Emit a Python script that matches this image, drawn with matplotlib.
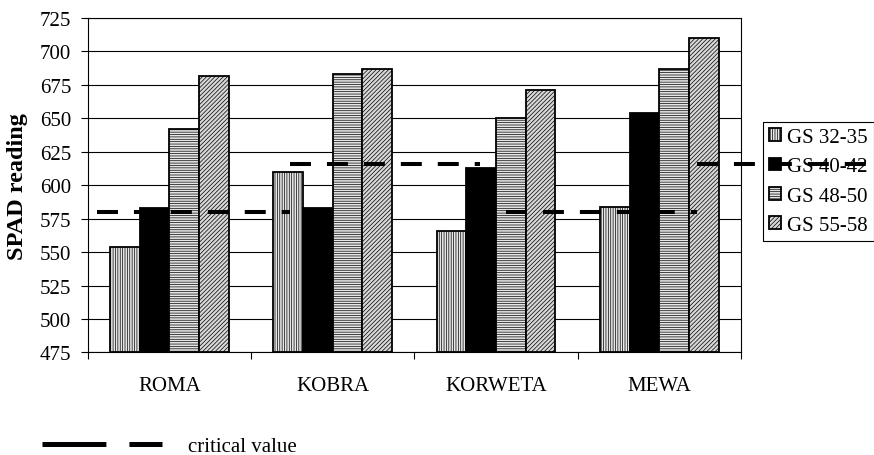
import numpy as np
import matplotlib
matplotlib.use("Agg")
import matplotlib.pyplot as plt
from matplotlib.lines import Line2D

plt.rcParams['font.family'] = ['Liberation Serif', 'DejaVu Serif']
plt.rcParams['font.size'] = 15
plt.rcParams['hatch.linewidth'] = 0.5
plt.rcParams['lines.scale_dashes'] = False

# data
varieties = ['ROMA', 'KOBRA', 'KORWETA', 'MEWA']
stages = ['GS 32-35', 'GS 40-42', 'GS 48-50', 'GS 55-58']
gs_32_35 = [554, 610, 566, 584]
gs_40_42 = [583, 583, 613, 654]
gs_48_50 = [642, 683, 650, 687]
gs_55_58 = [682, 687, 671, 710]

# critical value line pieces (category units)
crit_x = [[-0.44, 0.74], [0.74, 1.90], [2.06, 3.23], [3.23, 4.40]]
crit_y = [580, 616, 580, 616]

series = [gs_32_35, gs_40_42, gs_48_50, gs_55_58]
faces = ['#e6e6e6', 'black', '#e6e6e6', '#d8d8d8']
hatches = ['|||||||', None, '-------', '////////']

fig = plt.figure(figsize=(8.74, 4.56), dpi=100)
ax = fig.add_axes([0.1003, 0.2248, 0.7475, 0.7335])

x = np.arange(len(varieties))
w = 0.182
handles = []
for i, vals in enumerate(series):
    bars = ax.bar(x + (i - 1.5) * w, np.array(vals) - 475, bottom=475, width=w,
                  color=faces[i], hatch=hatches[i], edgecolor='black',
                  linewidth=1.3, zorder=3, label=stages[i])
    handles.append(bars)

for xs, yv in zip(crit_x, crit_y):
    ax.plot(xs, [yv, yv], color='black', lw=2.9, dashes=(15.1, 11.5),
            solid_capstyle='butt', dash_capstyle='butt', clip_on=False, zorder=6)

ax.set_xlim(-0.5, 3.5)
ax.set_ylim(475, 725)
ax.set_yticks(np.arange(475, 726, 25))
ax.set_xticks(x)
ax.set_xticklabels(varieties)
ax.set_xticks(np.arange(-0.5, 3.6, 1), minor=True)
ax.tick_params(axis='x', which='major', length=0, pad=17)
ax.tick_params(axis='x', which='minor', length=4.8, width=0.8, direction='out')
ax.tick_params(axis='y', length=4.8, width=0.8, direction='out', pad=7)
ax.yaxis.grid(True, color='black', lw=0.8)
ax.set_axisbelow(True)
for s in ax.spines.values():
    s.set_linewidth(0.8)
    s.set_color('black')

ax.set_ylabel('SPAD reading', fontweight='bold', fontsize=17.5)
ax.yaxis.set_label_coords(-0.092, 0.5)

leg = ax.legend(handles=handles, loc='upper left',
                bbox_to_anchor=(762.7 / 874, 1 - 122.7 / 456),
                bbox_transform=fig.transFigure, borderaxespad=0,
                fancybox=False, edgecolor='black', framealpha=1,
                handlelength=0.58, handleheight=0.58, handletextpad=0.3,
                borderpad=0.3, labelspacing=0.5)
leg.get_frame().set_linewidth(0.8)

proxy = Line2D([], [], color='black', lw=3.6, dashes=(46, 16.6, 23.8, 40),
               dash_capstyle='butt')
fig.legend(handles=[proxy], labels=['critical value'], loc='center left',
           bbox_to_anchor=(41.7 / 874, 1 - 447 / 456), frameon=False,
           borderpad=0, borderaxespad=0, handlelength=5.78, handletextpad=1.25)

fig.savefig('out.png', dpi=100)
